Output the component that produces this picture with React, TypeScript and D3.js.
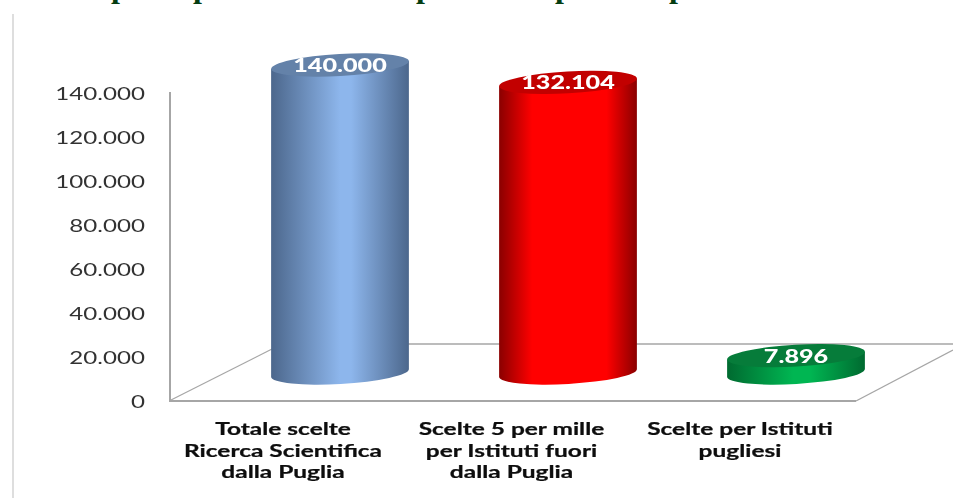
import React from "react";
import * as d3 from "d3";

const categories = ["Totale scelte Ricerca Scientifica dalla Puglia", "Scelte 5 per mille per Istituti fuori dalla Puglia", "Scelte per Istituti pugliesi"];
const categoryLines = [
  ["Totale scelte", "Ricerca Scientifica", "dalla Puglia"],
  ["Scelte 5 per mille", "per Istituti fuori", "dalla Puglia"],
  ["Scelte per Istituti", "pugliesi"],
];
const values = [140000, 132104, 7896];
const valueLabels = ["140.000", "132.104", "7.896"];
const tickValues = [0, 20000, 40000, 60000, 80000, 100000, 120000, 140000];
const tickLabels = ["0", "20.000", "40.000", "60.000", "80.000", "100.000", "120.000", "140.000"];
const edgeColors = ["#4c678c", "#8a0000", "#006a30"];
const midColors = ["#8db6ec", "#ff0000", "#00b652"];
const topColors = ["#6482a9", "#c20000", "#067c3a"];
const gradientStops = [[0.5, 0.58], [0.24, 0.78], [0.48, 0.6]];
const titleGlyphX = [120, 202, 425, 564, 678];

const W = 953;
const H = 498;
const RX = 69;
const RY = 11;
const TILT = -3.3;

export default function App() {
  const x = d3.scalePoint<string>().domain(categories).range([340, 796]);
  const yBar = d3.scaleLinear().domain([0, 140000]).range([373, 65]);
  const yTick = d3.scaleLinear().domain([0, 140000]).range([401, 93]);
  const labelX = d3.scalePoint<string>().domain(categories).range([283, 740]);
  const sans = "Lato, 'Open Sans', sans-serif";
  const dy = RX * Math.sin((-TILT * Math.PI) / 180);
  const dx = RX * Math.cos((TILT * Math.PI) / 180);

  return (
    <svg width={W} height={H} viewBox={`0 0 ${W} ${H}`} style={{ position: "absolute", left: 0, top: 0, background: "#fff" }}>
      <defs>
        {categories.map((_, i) => (
          <linearGradient key={i} id={`g${i}`} x1="0" x2="1" y1="0" y2="0">
            <stop offset="0" stopColor={edgeColors[i]} />
            <stop offset={gradientStops[i][0]} stopColor={midColors[i]} />
            <stop offset={gradientStops[i][1]} stopColor={midColors[i]} />
            <stop offset="1" stopColor={edgeColors[i]} />
          </linearGradient>
        ))}
        <filter id="soft" x="-5%" y="-20%" width="110%" height="140%">
          <feGaussianBlur stdDeviation="0.35" />
        </filter>
      </defs>

      {titleGlyphX.map((gx, i) => (
        <text key={i} x={gx} y={-3} textAnchor="middle" fontFamily="'Liberation Serif', serif" fontWeight="bold" fontSize={32} fill="#043d12">p</text>
      ))}

      <line x1={13} x2={13} y1={14} y2={H} stroke="#bdbdbd" strokeWidth={1} />

      <g stroke="#a6a6a6" fill="none">
        <line x1={170} x2={170} y1={92} y2={401} strokeWidth={2} />
        <line x1={169} x2={856} y1={401} y2={401} strokeWidth={2} />
        <line x1={171} x2={272} y1={400} y2={349} strokeWidth={1.2} />
        <line x1={272} x2={W} y1={344} y2={344} strokeWidth={1.4} />
        <line x1={856} x2={W} y1={401} y2={350} strokeWidth={1.4} />
      </g>

      <g filter="url(#soft)">
        {tickValues.map((v, i) => (
          <text key={v} transform={`translate(145,${yTick(v) + 7}) scale(1.42,1)`} textAnchor="end" fontFamily={sans} fontSize={17} fill="#333">{tickLabels[i]}</text>
        ))}
      </g>

      {categories.map((c, i) => {
        const cx = x(c)!;
        const top = yBar(values[i]);
        const base = yBar(0);
        const d = `M${cx - dx},${top + dy} L${cx - dx},${base + dy} A${RX},${RY} ${TILT} 0 0 ${cx + dx},${base - dy} L${cx + dx},${top - dy} Z`;
        return (
          <g key={c}>
            <path d={d} fill={`url(#g${i})`} />
            <ellipse cx={cx} cy={top} rx={RX} ry={RY} fill={topColors[i]} transform={`rotate(${TILT} ${cx} ${top})`} />
            <text transform={`translate(${cx},${top + 7}) scale(1.4,1)`} textAnchor="middle" fontFamily={sans} fontWeight="900" fontSize={18} fill="#fff" filter="url(#soft)">{valueLabels[i]}</text>
          </g>
        );
      })}

      <g filter="url(#soft)">
        {categories.map((c, i) =>
          categoryLines[i].map((line, j) => (
            <text key={line + j} transform={`translate(${labelX(c)},${435 + j * 21.5}) scale(1.44,1)`} textAnchor="middle" fontFamily={sans} fontWeight="bold" fontSize={17} fill="#111" stroke="#111" strokeWidth={0.25}>{line}</text>
          ))
        )}
      </g>
    </svg>
  );
}
